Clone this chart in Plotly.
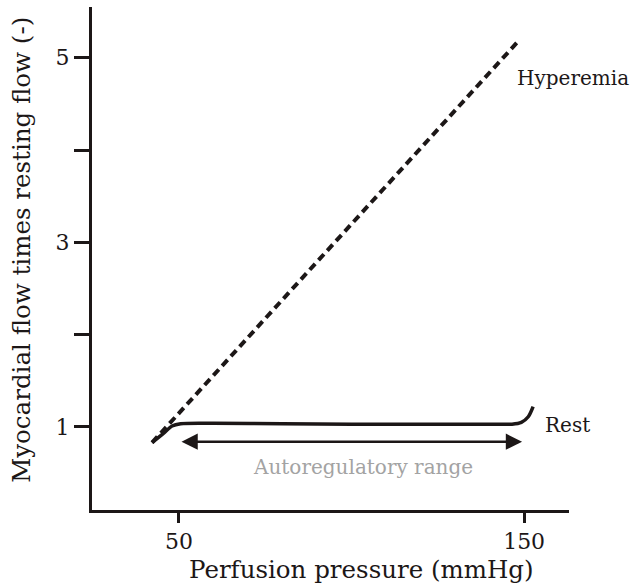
import plotly.graph_objects as go

# Data
hyper_x = [42.2, 148.8]
hyper_y = [0.83, 5.2]

rest_x = [42.2, 45.5, 48.0, 50.5, 60, 80, 100, 120, 140, 146.5, 149.2, 151.2, 152.6]
rest_y = [0.83, 0.93, 1.01, 1.035, 1.04, 1.035, 1.03, 1.03, 1.03, 1.03, 1.05, 1.11, 1.22]

arrow_x = [50.3, 149.4]
arrow_y = [0.84, 0.84]

x_ticks = [50, 150]
y_ticks = [1, 2, 3, 4, 5]
y_ticklabels = ["1", "", "3", "", "5"]

x_title = "Perfusion pressure (mmHg)"
y_title = "Myocardial flow times resting flow (-)"

FONT = "DejaVu Serif"
INK = "#1c1717"

fig = go.Figure()
fig.add_trace(go.Scatter(x=hyper_x, y=hyper_y, mode="lines",
                         line=dict(color=INK, width=4, dash="8px,5px"),
                         hoverinfo="skip", showlegend=False))
fig.add_trace(go.Scatter(x=rest_x, y=rest_y, mode="lines",
                         line=dict(color=INK, width=3.5, shape="spline", smoothing=0.8),
                         hoverinfo="skip", showlegend=False))

fig.add_annotation(x=arrow_x[1], y=arrow_y[1], ax=arrow_x[0], ay=arrow_y[0],
                   xref="x", yref="y", axref="x", ayref="y", text="",
                   showarrow=True, arrowhead=2, startarrowhead=2,
                   arrowside="end+start", arrowsize=1.3, startarrowsize=1.3,
                   arrowwidth=2.5, arrowcolor=INK)

fig.add_annotation(x=103.3, y=0.57, xref="x", yref="y", text="Autoregulatory range",
                   showarrow=False, font=dict(family=FONT, size=20, color="#a3a3a3"))
fig.add_annotation(x=155.5, y=1.02, xref="x", yref="y", text="Rest", xanchor="left",
                   showarrow=False, font=dict(family=FONT, size=20, color=INK))
fig.add_annotation(x=147.3, y=4.78, xref="x", yref="y", text="Hyperemia", xanchor="left",
                   showarrow=False, font=dict(family=FONT, size=20, color=INK))

# axis titles (placed as in the reference, off-centre)
fig.add_annotation(x=0.566, y=-0.119, xref="paper", yref="paper", text=x_title,
                   showarrow=False, xanchor="center", yanchor="middle",
                   font=dict(family=FONT, size=24.5, color=INK))
fig.add_annotation(x=-0.147, y=0.517, xref="paper", yref="paper", text=y_title,
                   showarrow=False, xanchor="center", yanchor="middle", textangle=-90,
                   font=dict(family=FONT, size=24.5, color=INK))

fig.update_layout(
    width=630, height=586,
    margin=dict(l=92, r=61, t=7, b=76),
    paper_bgcolor="white", plot_bgcolor="white",
    font=dict(family=FONT, size=20, color=INK),
    xaxis=dict(range=[24.8, 163], tickvals=x_ticks, showgrid=False, zeroline=False,
               showline=True, linecolor=INK, linewidth=3,
               ticks="outside", ticklen=10, tickwidth=3, tickcolor=INK,
               tickfont=dict(family=FONT, size=22, color=INK)),
    yaxis=dict(range=[0.1, 5.55], tickvals=y_ticks, ticktext=y_ticklabels,
               showgrid=False, zeroline=False,
               showline=True, linecolor=INK, linewidth=3,
               ticks="outside", ticklen=15, tickwidth=3, tickcolor=INK,
               tickfont=dict(family=FONT, size=22, color=INK)),
)

fig.write_html("out.html")
